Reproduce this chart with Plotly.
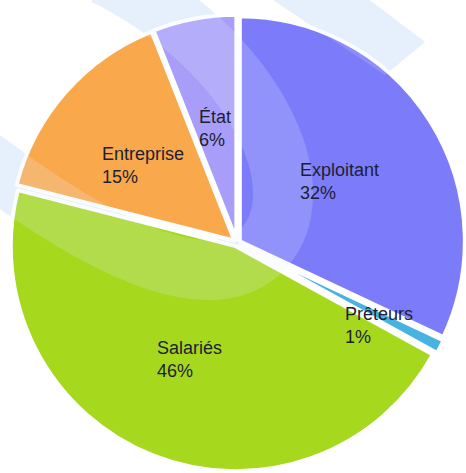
import math
import plotly.graph_objects as go

# ---- data -------------------------------------------------------------
labels = ["Exploitant", "Prêteurs", "Salariés", "Entreprise", "État"]
values = [32, 1, 46, 15, 6]
colors = ["#7c7cfb", "#47b3e0", "#a6d81e", "#f9a94b", "#a89ef9"]

# ---- layout constants (styling / placement) ----------------------------
W, H = 466, 473
CX, CY = 237, 243          # pie centre in pixels
R = 225                    # pie radius in pixels
PULL = 0.015
R_DOM = R * (1 + PULL)     # half size of pie domain in pixels
# per-label placement tweaks: (angle nudge in degrees, radius in px)
label_place = [(1.35, 120), (3.2, 164), (0.5, 126), (-1.9, 122), (0.0, 117)]


def px(x, y):
    return x / W, 1 - y / H


fig = go.Figure(
    go.Pie(
        labels=labels,
        values=values,
        sort=False,
        direction="clockwise",
        rotation=0,
        pull=[PULL] * len(values),
        marker=dict(colors=colors, line=dict(color="white", width=4)),
        textinfo="none",
        hoverinfo="label+percent",
        showlegend=False,
        domain=dict(
            x=[max(0.0, (CX - R_DOM) / W), min(1.0, (CX + R_DOM) / W)],
            y=[max(0.0, 1 - (CY + R_DOM) / H), min(1.0, 1 - (CY - R_DOM) / H)],
        ),
    )
)

# ---- labels placed from the slice mid-angles -----------------------------
total = sum(values)
cum = 0
annotations = []
for lab, v, (nudge, r) in zip(labels, values, label_place):
    mid = (cum + v / 2) / total * 360 + nudge
    cum += v
    x = CX + r * math.sin(math.radians(mid))
    y = CY - r * math.cos(math.radians(mid))
    xp, yp = px(x, y)
    pct = round(v / total * 100)
    annotations.append(
        dict(
            x=xp, y=yp, xref="paper", yref="paper",
            text=f"{lab}<br>{pct}%",
            showarrow=False, align="left",
            xanchor="center", yanchor="middle",
            font=dict(family="Liberation Sans, Arial, sans-serif", size=18, color="#1c1e32"),
        )
    )


# ---- decorative watermark bands --------------------------------------------
def path_from(cmds):
    out = []
    for c in cmds:
        if isinstance(c, str):
            out.append(c)
        else:
            xp, yp = px(*c)
            out.append(f"{xp:.4f},{yp:.4f}")
    return " ".join(out)


swoosh = path_from(["M", (105, -25), "C", (255, 50), (320, 190), (262, 250),
                    "C", (215, 295), (120, 265), (-30, 150)])
bandB = path_from(["M", (270, -2), "L", (367, -2), "L", (425, 42), "L", (385, 75), "Z"])

shapes = [
    dict(type="path", path=swoosh, xref="paper", yref="paper",
         line=dict(color="#e6f0fc", width=60), layer="below"),
    dict(type="path", path=bandB, xref="paper", yref="paper",
         fillcolor="#e6f0fc", line=dict(width=0), layer="below"),
    dict(type="path", path=swoosh, xref="paper", yref="paper",
         line=dict(color="rgba(228,238,255,0.2)", width=60), layer="above"),
    dict(type="path", path=bandB, xref="paper", yref="paper",
         fillcolor="rgba(228,238,255,0.16)", line=dict(width=0), layer="above"),
]

fig.update_layout(
    width=W, height=H,
    margin=dict(l=0, r=0, t=0, b=0),
    paper_bgcolor="white",
    plot_bgcolor="white",
    annotations=annotations,
    shapes=shapes,
)

fig.write_html(
    "out.html",
    config={"displayModeBar": False},
    post_script="document.body.style.margin='0px';document.body.style.overflow='hidden';",
)
